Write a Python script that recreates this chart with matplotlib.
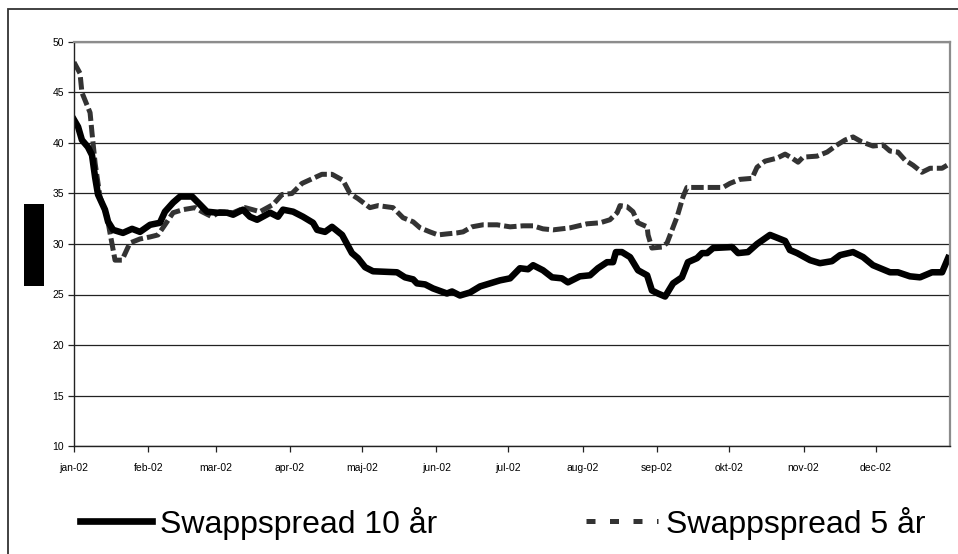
import numpy as np
import matplotlib
matplotlib.use('Agg')
import matplotlib.pyplot as plt
import matplotlib.dates as mdates
from matplotlib.patches import Rectangle
from matplotlib.lines import Line2D

plt.rcParams['font.family'] = ['Liberation Sans', 'DejaVu Sans']

# dagar efter 2002-01-01 och värden (punkter)
days_10 = [0, 1.7, 3.3, 5.8, 7.5, 8.8, 10, 12.9, 14.2, 16.3, 20.4, 24.2, 27.5, 31.7,
           35.8, 37.9, 41.3, 44.2, 49.2, 51.7, 55.4, 59.6, 63.8, 66.3, 70.4, 73.3,
           76.3, 81.7, 85, 87.1, 91.3, 95.4, 99.6, 101.3, 104.6, 107.5, 111.7, 115.8,
           118.3, 121.3, 124.6, 134.6, 137.9, 141.3, 142.9, 146.3, 149.6, 155.4, 157.5,
           160.8, 165, 169.2, 177.5, 181.7, 185.8, 189.2, 191.3, 195.4, 199.2, 203.3,
           205.8, 210.8, 215, 218.3, 222.1, 224.6, 225.8, 228.3, 231.7, 235, 238.8,
           240.8, 243.3, 246.3, 249.6, 253.3, 255.8, 259.6, 261.7, 263.8, 266.3, 274.2,
           276.7, 280.8, 284.6, 290, 296.3, 298.3, 301.3, 306.7, 310.8, 315.8, 319.2,
           324.6, 328.8, 332.9, 340, 343.3, 348.3, 352.5, 357.5, 361.7, 364.2]
swap_10 = [42.3, 41.6, 40.3, 39.6, 38.8, 36.6, 34.9, 33.4, 32.2, 31.4, 31.1, 31.5, 31.2, 31.9,
           32.1, 33.2, 34.1, 34.7, 34.7, 34.1, 33.2, 33.1, 33.1, 32.9, 33.4, 32.7,
           32.4, 33.1, 32.7, 33.4, 33.2, 32.7, 32.1, 31.4, 31.2, 31.7, 30.9, 29.1,
           28.6, 27.7, 27.3, 27.2, 26.7, 26.5, 26.1, 26.0, 25.6, 25.1, 25.3,
           24.9, 25.2, 25.8, 26.4, 26.6, 27.6, 27.5, 27.9, 27.4, 26.7, 26.6,
           26.2, 26.8, 26.9, 27.6, 28.2, 28.2, 29.2, 29.2, 28.7, 27.4, 26.9,
           25.4, 25.1, 24.8, 26.1, 26.7, 28.2, 28.6, 29.1, 29.1, 29.6, 29.7,
           29.1, 29.2, 30.0, 30.9, 30.3, 29.4, 29.1, 28.4, 28.1, 28.3, 28.9,
           29.2, 28.7, 27.9, 27.2, 27.2, 26.8, 26.7, 27.2, 27.2, 28.6]

days_5 = [0, 2.5, 3.3, 6.7, 7.5, 8.8, 10.8, 13.8, 15, 17.1, 20, 23.3, 27.5, 31.7, 35,
          37.9, 41.3, 45.4, 50.4, 53.3, 57.5, 60.8, 66.3, 71.3, 77.5, 82.9, 86.7,
          90.8, 95, 99.6, 103.3, 107.5, 112.1, 115, 118.3, 123.3, 126.7, 132.9, 137.1,
          141.3, 144.2, 148.3, 151.7, 155.4, 159.6, 162.1, 165.8, 170.4, 176.3, 181.7,
          187.1, 191.3, 195.4, 199.6, 206.7, 213.8, 219.2, 223.3, 226.3, 227.5, 230.4,
          232.9, 235, 238.8, 239.2, 240.8, 245, 247.1, 249.2, 251.3, 253.8, 255.4,
          260.8, 266.3, 270.4, 273.3, 277.5, 282.5, 284.6, 287.9, 292.9, 296.3, 299.2,
          301.7, 303.8, 309.6, 313.8, 317.9, 321.3, 324.6, 328.3, 332.9, 337.1, 340,
          343.3, 346.3, 349.6, 353.3, 356.7, 361.7, 363.8]
swap_5 = [48.0, 46.9, 45.0, 43.0, 41.0, 38.0, 34.7, 32.7, 31.1, 28.4, 28.4, 30.1, 30.5, 30.7, 30.9,
          31.9, 33.1, 33.4, 33.6, 33.2, 32.7, 33.2, 33.1, 33.6, 33.2, 33.9, 34.9,
          35.0, 36.0, 36.5, 36.9, 36.9, 36.3, 35.0, 34.5, 33.6, 33.8, 33.6, 32.6,
          32.2, 31.6, 31.2, 30.9, 31.0, 31.1, 31.2, 31.7, 31.9, 31.9, 31.7,
          31.8, 31.8, 31.5, 31.4, 31.6, 32.0, 32.1, 32.4, 33.1, 33.8, 33.7,
          33.2, 32.1, 31.7, 30.9, 29.6, 29.7, 30.1, 31.4, 32.7, 34.7, 35.6,
          35.6, 35.6, 35.6, 36.0, 36.4, 36.5, 37.6, 38.2, 38.5, 38.9, 38.5,
          38.1, 38.6, 38.7, 39.1, 39.8, 40.3, 40.6, 40.1, 39.7, 39.8, 39.2,
          39.1, 38.3, 37.8, 37.1, 37.5, 37.5, 37.8]

month_labels = ['jan-02', 'feb-02', 'mar-02', 'apr-02', 'maj-02', 'jun-02',
                'jul-02', 'aug-02', 'sep-02', 'okt-02', 'nov-02', 'dec-02']

base = mdates.datestr2num('2002-01-01')
x10 = base + np.array(days_10)
x5 = base + np.array(days_5)
month_starts = mdates.date2num(np.arange('2002-01', '2003-01', dtype='datetime64[M]').astype('datetime64[D]'))

fig = plt.figure(figsize=(9.58, 5.54), dpi=100)
ax = fig.add_axes([74/958, 108/554, 876/958, 404/554])

ax.plot(x5, swap_5, color='#333333', lw=3.6, linestyle=(0, (2.5, 0.8)), solid_capstyle='butt')
ax.plot(x10, swap_10, color='black', lw=4.7, solid_joinstyle='round')

ax.set_ylim(10, 50)
ax.set_yticks(np.arange(10, 51, 5))
ax.set_xlim(base, mdates.datestr2num('2003-01-01'))
ax.set_xticks(month_starts)
ax.set_xticklabels(month_labels)
ax.yaxis.grid(True, color='#222222', lw=0.9)
ax.set_axisbelow(True)
ax.tick_params(axis='both', labelsize=7.5, length=4, width=0.9, color='#222222')
ax.tick_params(axis='x', pad=8)
ax.tick_params(axis='y', pad=3)
for s in ['left', 'bottom']:
    ax.spines[s].set_color('#222222')
    ax.spines[s].set_linewidth(1.0)
for s in ['top', 'right']:
    ax.spines[s].set_color('#8c8c8c')
    ax.spines[s].set_linewidth(1.6)

# yttre ram och svart ruta
fig.add_artist(Rectangle((8/958, -0.1), 1.0, 1.1 - 9/554, fill=False, lw=1.3,
                         ec='#333333', transform=fig.transFigure, clip_on=False))
fig.add_artist(Rectangle((24/958, 1 - 286/554), 20/958, 82/554, fc='black', ec='none',
                         transform=fig.transFigure))

handles = [Line2D([], [], color='black', lw=4.8),
           Line2D([], [], color='#333333', lw=3.6, linestyle=(0, (1.8, 2.9)))]
fig.legend(handles, ['Swappspread 10 år', 'Swappspread 5 år'], loc='center left',
           bbox_to_anchor=(80/958, 1 - 523/554), ncol=2, frameon=False, fontsize=23,
           handlelength=2.25, handletextpad=0.25, columnspacing=4.65, borderpad=0,
           borderaxespad=0)

fig.savefig('out.png', dpi=100)
